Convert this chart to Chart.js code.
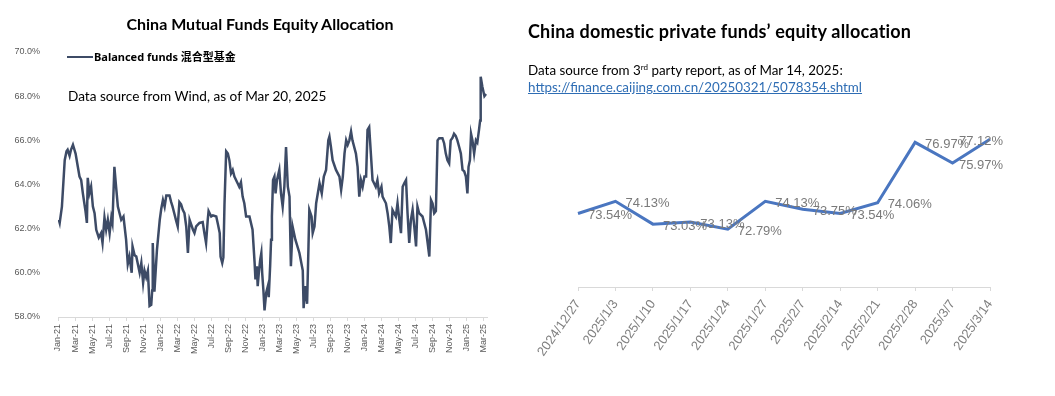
<!DOCTYPE html>
<html>
<head>
<meta charset="utf-8">
<script src="https://cdn.jsdelivr.net/npm/chart.js@4.4.1/dist/chart.umd.min.js"></script>
<style>
body { margin: 0; background: #fff; width: 1055px; height: 396px; position: relative; overflow: hidden; font-family: Lato, "Noto Sans CJK SC", sans-serif; }
canvas { position: absolute; top: 0; }
#c1 { left: 0; }
#c2 { left: 520px; }
.t { position: absolute; white-space: nowrap; color: #000; }
</style>
</head>
<body>
<canvas id="c1" width="520" height="396"></canvas>
<canvas id="c2" width="535" height="396"></canvas>

<div class="t" style="left:0;width:520px;text-align:center;top:14px;font-size:16px;font-weight:bold;line-height:20px">China Mutual Funds Equity Allocation</div>
<div class="t" style="left:67px;top:56px;width:26px;height:2px;background:#3d4b66"></div>
<div class="t" style="left:94px;top:50px;font-size:11px;font-weight:bold;line-height:14px;font-family:'Noto Sans','Noto Sans CJK SC',sans-serif">Balanced funds 混合型基金</div>
<div class="t" style="left:68px;top:88px;font-size:13.6px;line-height:16px">Data source from Wind, as of Mar 20, 2025</div>

<div class="t" style="left:528px;top:20px;font-size:18px;font-weight:bold;line-height:22px;letter-spacing:0.2px">China domestic private funds’ equity allocation</div>
<div class="t" style="left:528px;top:62px;font-size:13.4px;line-height:16px">Data source from 3<span style="font-size:8px;position:relative;top:-5px">rd</span> party report, as of Mar 14, 2025:</div>
<div class="t" style="left:528px;top:79px;font-size:13.4px;line-height:16px;color:#2e6db4;text-decoration:underline">https://finance.caijing.com.cn/20250321/5078354.shtml</div>

<script>
// left chart: balanced mutual funds equity allocation (%)
const mfDates = [
  '2021-01-04','2021-01-07','2021-01-15','2021-01-25','2021-02-01','2021-02-05','2021-02-12','2021-02-17','2021-02-24','2021-03-03',
  '2021-03-11','2021-03-17','2021-03-23','2021-03-29','2021-04-08','2021-04-13','2021-04-16','2021-04-22','2021-04-28','2021-05-04',
  '2021-05-10','2021-05-16','2021-05-25','2021-06-03','2021-06-08','2021-06-15','2021-06-21','2021-06-27','2021-07-03','2021-07-09',
  '2021-07-13','2021-07-20','2021-07-26','2021-08-02','2021-08-08','2021-08-14','2021-08-22','2021-09-01','2021-09-07','2021-09-13',
  '2021-09-21','2021-09-24','2021-10-01','2021-10-07','2021-10-19','2021-10-25','2021-11-01','2021-11-06','2021-11-12','2021-11-18',
  '2021-11-24','2021-11-30','2021-12-03','2021-12-05','2021-12-11','2021-12-20','2021-12-30',
  '2022-01-05','2022-01-11','2022-01-17','2022-01-23','2022-02-04','2022-02-10','2022-02-15','2022-02-21','2022-02-27','2022-03-03',
  '2022-03-09','2022-03-15','2022-03-21','2022-03-27','2022-04-03','2022-04-09','2022-04-15','2022-04-27','2022-05-02','2022-05-08',
  '2022-05-20','2022-06-01','2022-06-07','2022-06-13','2022-06-19','2022-06-22','2022-07-01','2022-07-07','2022-07-19','2022-07-25',
  '2022-08-01','2022-08-04','2022-08-10','2022-08-14','2022-08-18','2022-08-24','2022-08-30','2022-09-05','2022-09-11','2022-09-17',
  '2022-09-23','2022-10-04','2022-10-10','2022-10-16','2022-10-22','2022-10-28','2022-11-04','2022-11-16','2022-11-27','2022-12-04',
  '2022-12-07','2022-12-12','2022-12-15','2022-12-19','2022-12-24','2022-12-28','2022-12-31',
  '2023-01-05','2023-01-09','2023-01-15','2023-01-21','2023-01-24','2023-01-29','2023-02-02','2023-02-05','2023-02-09','2023-02-14',
  '2023-02-18','2023-02-23','2023-03-01','2023-03-07','2023-03-13','2023-03-19','2023-03-25','2023-04-01','2023-04-07','2023-04-12',
  '2023-04-18','2023-04-28','2023-05-12','2023-05-24','2023-05-27','2023-06-02','2023-06-09','2023-06-14','2023-06-17','2023-06-25',
  '2023-06-29','2023-07-05','2023-07-11','2023-07-23','2023-07-31','2023-08-08','2023-08-16','2023-08-24','2023-08-28','2023-09-03',
  '2023-09-09','2023-09-21','2023-10-03','2023-10-09','2023-10-15','2023-10-21','2023-10-27','2023-11-02','2023-11-08','2023-11-14',
  '2023-11-19','2023-12-01','2023-12-07','2023-12-13','2023-12-19','2023-12-25',
  '2024-01-01','2024-01-07','2024-01-12','2024-01-18','2024-01-24','2024-01-30','2024-02-05','2024-02-11','2024-02-17','2024-02-23',
  '2024-03-01','2024-03-05','2024-03-11','2024-03-17','2024-03-23','2024-03-29','2024-04-04','2024-04-10','2024-04-22','2024-04-28',
  '2024-05-04','2024-05-10','2024-05-16','2024-05-22','2024-05-28','2024-06-03','2024-06-09','2024-06-15','2024-06-21','2024-06-27',
  '2024-07-03','2024-07-08','2024-07-14','2024-07-26','2024-08-08','2024-08-14','2024-08-20','2024-08-26','2024-09-01','2024-09-07',
  '2024-09-13','2024-09-19','2024-09-25','2024-10-06','2024-10-12','2024-10-18','2024-10-24','2024-10-30','2024-11-05','2024-11-11',
  '2024-11-17','2024-11-23','2024-11-29','2024-12-05','2024-12-11','2024-12-17','2024-12-23','2024-12-29',
  '2025-01-04','2025-01-08','2025-01-13','2025-01-17','2025-01-22','2025-01-28','2025-02-04','2025-02-09','2025-02-15','2025-02-19',
  '2025-02-21','2025-02-27','2025-03-04','2025-03-10'
]
const mfValues = [
  62.4, 62.26, 63.0, 65.1, 65.5, 65.57, 65.3, 65.57, 65.8, 65.4,
  64.8, 64.36, 64.2, 63.6, 62.8, 62.26, 64.3, 63.6, 63.9, 63.0,
  62.7, 61.95, 61.6, 61.8, 61.36, 62.5, 61.95, 62.4, 61.8, 62.5,
  62.26, 64.8, 63.9, 63.0, 62.7, 62.4, 62.55, 61.5, 60.4, 60.74,
  60.0, 61.2, 60.8, 60.74, 60.0, 60.45, 59.55, 60.1, 59.8, 60.1,
  58.5, 58.55, 59.2, 61.35, 59.15, 61.04, 62.4,
  62.9, 63.3, 63.0, 63.5, 63.5, 63.2, 63.0, 62.7, 62.4, 62.1,
  63.2, 63.1, 62.85, 62.7, 62.1, 60.9, 62.4, 61.95, 61.8, 62.1,
  62.26, 62.3, 61.8, 61.35, 62.4, 62.8, 62.55, 62.6, 62.55, 62.2,
  61.8, 60.74, 60.45, 60.7, 63.1, 65.5, 65.4, 65.1, 64.5, 64.66,
  64.36, 64.06, 63.9, 64.1, 63.45, 63.15, 62.55, 62.55, 61.95, 60.45,
  59.7, 60.3, 59.4, 60.0, 60.6, 60.9, 60.0,
  59.2, 58.3, 59.1, 59.4, 58.9, 60.3, 61.5, 62.55, 64.2, 64.36,
  63.6, 64.2, 64.66, 63.6, 63.0, 63.9, 65.7, 63.9, 63.45, 60.3,
  62.1, 61.5, 60.9, 60.1, 58.4, 59.4, 58.6, 61.2, 62.85, 62.55,
  61.8, 62.1, 63.15, 64.06, 63.6, 64.36, 64.66, 66.0, 66.17, 65.7,
  65.1, 64.66, 64.36, 63.76, 64.36, 65.4, 66.0, 65.8, 66.0, 66.4,
  66.0, 65.4, 64.8, 63.45, 64.2, 63.9,
  64.36, 64.36, 66.47, 66.6, 65.4, 64.2, 64.06, 63.9, 64.2, 63.6,
  63.9, 63.45, 63.3, 63.15, 62.7, 62.1, 61.35, 62.85, 62.55, 63.15,
  62.4, 61.8, 63.9, 64.06, 64.2, 62.7, 61.35, 62.4, 62.85, 62.1,
  61.2, 63.0, 62.7, 62.55, 61.95, 61.35, 60.74, 63.3, 63.15, 62.7,
  62.8, 66.0, 66.1, 66.1, 65.87, 65.4, 65.1, 64.96, 66.0, 66.1,
  66.3, 66.2, 66.0, 65.7, 65.4, 64.66, 64.6, 64.36,
  63.6, 64.8, 65.1, 66.3, 66.0, 65.4, 66.0, 65.9, 66.47, 66.9,
  68.88, 68.43, 68.0, 68.1
]
const mfTickLabels = [
  'Jan-21','Mar-21','May-21','Jul-21','Sep-21','Nov-21',
  'Jan-22','Mar-22','May-22','Jul-22','Sep-22','Nov-22',
  'Jan-23','Mar-23','May-23','Jul-23','Sep-23','Nov-23',
  'Jan-24','Mar-24','May-24','Jul-24','Sep-24','Nov-24',
  'Jan-25','Mar-25'
]

// right chart: private funds equity allocation (%)
const pfDates = ['2024/12/27','2025/1/3','2025/1/10','2025/1/17','2025/1/24','2025/1/27','2025/2/7','2025/2/14','2025/2/21','2025/2/28','2025/3/7','2025/3/14']
const pfValues = [73.54, 74.13, 73.03, 73.13, 72.79, 74.13, 73.75, 73.54, 74.06, 76.97, 75.97, 77.12]

Chart.defaults.font.family = '"Liberation Sans", Arial, sans-serif'
Chart.defaults.animation = false

// months since Jan 2021, so the x axis can be a plain linear scale
function monthPos(d) {
    const p = d.split('-').map(Number)
    return (p[0] - 2021) * 12 + (p[1] - 1) + (p[2] - 1) / 30.4
}

var mfPoints = mfDates.map((d, i) => ({ x: monthPos(d), y: mfValues[i] }))

new Chart(document.getElementById('c1'), {
    type: 'line',
    data: {
        datasets: [{
            label: 'Balanced funds 混合型基金',
            data: mfPoints,
            borderColor: '#3d4b66',
            borderWidth: 2.5,
            pointRadius: 0,
            tension: 0
        }]
    },
    options: {
        responsive: false,
        layout: { padding: { top: 52, right: 33, bottom: 0, left: 0 } },
        plugins: { legend: { display: false }, tooltip: { enabled: false } },
        scales: {
            x: {
                type: 'linear',
                min: 0,
                max: 50.4,
                afterBuildTicks: (axis) => { axis.ticks = mfTickLabels.map((_, i) => ({ value: i * 2 })) },
                afterFit: (axis) => { axis.height = 79 },
                grid: { drawOnChartArea: false, drawTicks: true, tickLength: 4, color: '#d9d9d9' },
                border: { color: '#d9d9d9' },
                ticks: {
                    autoSkip: false,
                    minRotation: 90,
                    maxRotation: 90,
                    padding: 3,
                    color: '#595959',
                    font: { size: 9 },
                    callback: (v, i) => mfTickLabels[i]
                }
            },
            y: {
                min: 58,
                max: 70,
                afterFit: (axis) => { axis.width = 58 },
                grid: { display: false },
                border: { display: false },
                ticks: {
                    stepSize: 2,
                    padding: 10,
                    color: '#595959',
                    font: { size: 9 },
                    callback: (v) => v.toFixed(1) + '%'
                }
            }
        }
    }
})

// draws the value next to each point, kept inside the right edge
const pointLabels = {
    id: 'pointLabels',
    afterDatasetsDraw(chart) {
        const ctx = chart.ctx
        const meta = chart.getDatasetMeta(0)
        ctx.save()
        ctx.font = '13px "Liberation Sans", Arial, sans-serif'
        ctx.fillStyle = '#7a7a7a'
        ctx.textBaseline = 'middle'
        meta.data.forEach((pt, i) => {
            const text = pfValues[i].toFixed(2) + '%'
            const w = ctx.measureText(text).width
            let x = pt.x + 10
            if (x + w > chart.width - 52) x = chart.width - 52 - w
            ctx.fillText(text, x, pt.y + 2)
        })
        ctx.restore()
    }
}

new Chart(document.getElementById('c2'), {
    type: 'line',
    data: {
        labels: pfDates,
        datasets: [{
            data: pfValues,
            borderColor: '#4a76c0',
            borderWidth: 3,
            pointRadius: 0,
            tension: 0
        }]
    },
    options: {
        responsive: false,
        layout: { padding: { top: 121, right: 65, bottom: 0, left: 58 } },
        plugins: { legend: { display: false }, tooltip: { enabled: false } },
        scales: {
            x: {
                offset: false,
                afterFit: (axis) => { axis.height = 109 },
                grid: { drawOnChartArea: false, drawTicks: true, tickLength: 4, color: '#d9d9d9' },
                border: { color: '#d9d9d9' },
                ticks: {
                    autoSkip: false,
                    minRotation: 55,
                    maxRotation: 55,
                    padding: 6,
                    color: '#808080',
                    font: { size: 13 }
                }
            },
            y: { display: false, min: 70, max: 78 }
        }
    },
    plugins: [pointLabels]
})
</script>
</body>
</html>
